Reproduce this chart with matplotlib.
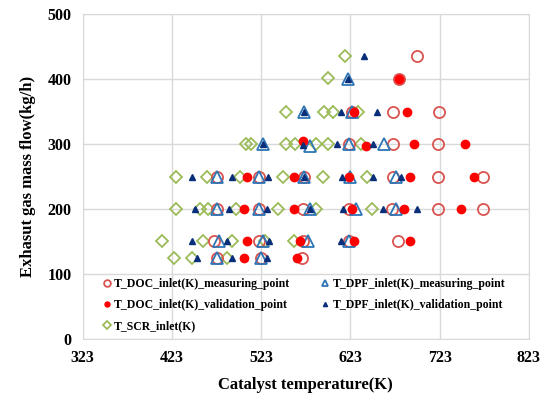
import matplotlib
matplotlib.use("Agg")
from matplotlib import pyplot as plt

# T_DOC_inlet measuring points (open red circles)
doc_meas_t = [698, 677, 625, 671, 722, 622, 671, 721, 474, 521, 571, 671, 721, 772,
              474, 520, 570, 621, 670, 721, 772, 470, 521, 570, 622, 676, 474, 523, 569]
doc_meas_f = [435, 400, 350, 350, 350, 300, 300, 300, 250, 250, 250, 250, 250, 250,
              200, 200, 200, 200, 200, 200, 200, 150, 150, 150, 150, 150, 125, 125, 125]

# T_DOC_inlet validation points (filled red circles)
doc_val_t = [677, 627, 687, 570, 641, 694, 751, 507, 560, 621, 690, 761,
             504, 560, 625, 683, 747, 507, 566, 627, 690, 504, 563]
doc_val_f = [400, 350, 350, 305, 297, 300, 300, 250, 250, 250, 250, 250,
             200, 200, 200, 200, 200, 150, 150, 150, 150, 125, 125]

# T_DPF_inlet measuring points (open blue triangles)
dpf_meas_t = [620, 571, 625, 525, 578, 622, 661, 474, 521, 571, 623, 674,
              474, 520, 578, 629, 674, 476, 525, 575, 622, 474, 523]
dpf_meas_f = [400, 350, 350, 300, 297, 300, 300, 250, 250, 250, 250, 250,
              200, 200, 200, 200, 200, 150, 150, 150, 150, 125, 125]

# T_DPF_inlet validation points (filled navy triangles)
dpf_val_t = [638, 620, 571, 613, 653, 525, 570, 608, 648, 445, 490, 531, 571, 614, 648, 680,
             449, 487, 530, 578, 615, 659, 698, 445, 485, 532, 613, 451, 490, 529]
dpf_val_f = [435, 400, 350, 350, 350, 300, 298, 300, 300, 250, 250, 250, 250, 250, 250, 250,
             200, 200, 200, 200, 200, 200, 200, 150, 150, 150, 150, 125, 125, 125]

# T_SCR_inlet (open green diamonds)
scr_t = [617, 598, 551, 593, 604, 631, 506, 512, 551, 561, 585, 598, 635,
         427, 462, 499, 548, 592, 642, 427, 454, 463, 495, 542, 584, 647,
         412, 458, 490, 527, 560, 425, 445, 485]
scr_f = [435, 401, 350, 350, 350, 350, 300, 300, 300, 300, 300, 300, 300,
         250, 250, 250, 250, 250, 250, 200, 200, 200, 200, 200, 200, 200,
         150, 150, 150, 150, 150, 125, 125, 125]

x_ticks = [323, 423, 523, 623, 723, 823]
y_ticks = [0, 100, 200, 300, 400, 500]

plt.rcParams['font.family'] = ['Liberation Serif', 'DejaVu Serif']
plt.rcParams['font.weight'] = 'bold'

fig = plt.figure(figsize=(5.48, 4.03), dpi=100)
ax = fig.add_axes([0.151, 0.159, 0.814, 0.806])

scr, = ax.plot(scr_t, scr_f, 'D', ms=6.5, mfc='none', mec='#9bbb59', mew=1.3, ls='none',
               label='T_SCR_inlet(K)')
doc_m, = ax.plot(doc_meas_t, doc_meas_f, 'o', ms=8, mfc='none', mec='#d9534f', mew=1.3, ls='none',
                 label='T_DOC_inlet(K)_measuring_point')
dpf_m, = ax.plot(dpf_meas_t, dpf_meas_f, '^', ms=8, mfc='none', mec='#2e75b6', mew=1.3, ls='none',
                 label='T_DPF_inlet(K)_measuring_point')
doc_v, = ax.plot(doc_val_t, doc_val_f, 'o', ms=6, color='#ff0000', ls='none',
                 label='T_DOC_inlet(K)_validation_point')
dpf_v, = ax.plot(dpf_val_t, dpf_val_f, '^', ms=5, color='#0a2f7a', ls='none',
                 label='T_DPF_inlet(K)_validation_point')

ax.set_xlim(323, 823)
ax.set_ylim(0, 500)
ax.set_xticks(x_ticks)
ax.set_yticks(y_ticks)
ax.tick_params(length=0, labelsize=11.5, pad=8)
ax.grid(True, color='#d9d9d9', lw=1)
ax.set_axisbelow(True)
for s in ax.spines.values():
    s.set_color('#d9d9d9')

ax.set_xlabel('Catalyst temperature(K)', fontsize=12, fontweight='bold', labelpad=8)
ax.set_ylabel('Exhasut gas mass flow(kg/h)', fontsize=12, fontweight='bold', labelpad=8)

ax.legend(handles=[doc_m, doc_v, scr, dpf_m, dpf_v], ncol=2, loc='lower left',
          bbox_to_anchor=(0.022, -0.012), frameon=False, markerscale=0.6,
          handlelength=0.6, handletextpad=0.3, columnspacing=2.7, labelspacing=0.75,
          prop={'weight': 'bold', 'size': 8.5})

fig.savefig('out.png', dpi=100)
